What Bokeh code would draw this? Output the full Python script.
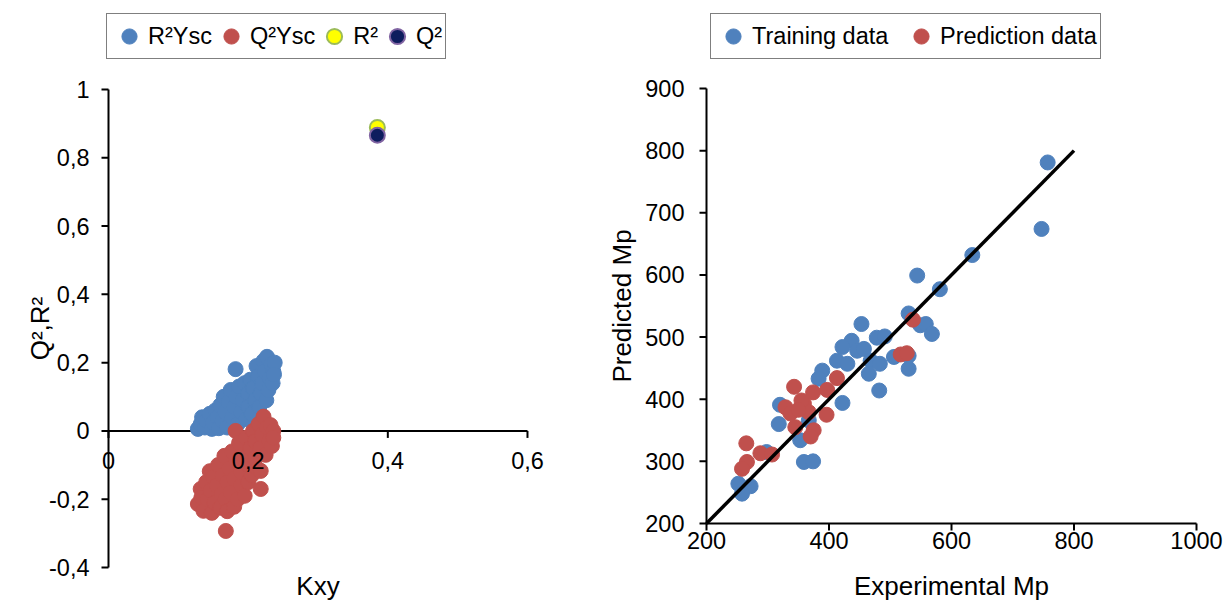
import math
from bokeh.plotting import figure
from bokeh.layouts import row
from bokeh.models import Range1d, Legend, LegendItem
from bokeh.core.properties import value
from bokeh.embed import file_html
from bokeh.resources import INLINE

FONT = "Liberation Sans"
TICK_FS = "23.5px"
TITLE_FS = "26px"
LEGEND_FS = "23.5px"

# ---------------- left chart data (Y-scrambling) ----------------
r2ysc_kxy = [0.128, 0.132, 0.134, 0.138, 0.140, 0.145, 0.148, 0.150, 0.153, 0.156,
             0.158, 0.160, 0.163, 0.165, 0.167, 0.170, 0.172, 0.175, 0.177, 0.180,
             0.182, 0.183, 0.185, 0.187, 0.190, 0.192, 0.195, 0.197, 0.200, 0.200,
             0.203, 0.205, 0.207, 0.210, 0.212, 0.214, 0.216, 0.218, 0.220, 0.222,
             0.224, 0.226, 0.227, 0.229, 0.231, 0.233, 0.235, 0.236, 0.238, 0.237]
r2ysc_val = [0.006, 0.020, 0.040, 0.010, 0.030, 0.050, 0.006, 0.025, 0.060, 0.040,
             0.008, 0.075, 0.030, 0.100, 0.055, 0.010, 0.085, 0.120, 0.040, 0.070,
             0.181, 0.100, 0.020, 0.130, 0.055, 0.090, 0.140, 0.035, 0.110, 0.070,
             0.150, 0.050, 0.125, 0.090, 0.190, 0.160, 0.070, 0.110, 0.140, 0.205,
             0.175, 0.090, 0.217, 0.120, 0.155, 0.195, 0.140, 0.175, 0.200, 0.165]

q2ysc_kxy = [0.128, 0.132, 0.133, 0.136, 0.140, 0.142, 0.145, 0.146, 0.148, 0.150,
             0.152, 0.155, 0.157, 0.160, 0.162, 0.163, 0.166, 0.167, 0.168, 0.170, 0.170,
             0.173, 0.175, 0.177, 0.180, 0.180, 0.182, 0.183, 0.185, 0.187, 0.190, 0.190,
             0.193, 0.195, 0.197, 0.200, 0.200, 0.203, 0.205, 0.207, 0.210, 0.210,
             0.213, 0.215, 0.217, 0.218, 0.218, 0.220, 0.222, 0.225, 0.227, 0.230,
             0.232, 0.234, 0.236, 0.236]
q2ysc_val = [-0.214, -0.170, -0.195, -0.234, -0.150, -0.200, -0.118, -0.175, -0.240, -0.135,
             -0.210, -0.160, -0.100, -0.225, -0.185, -0.130, -0.073, -0.200, -0.293, -0.150, -0.235,
             -0.110, -0.180, -0.060, -0.222, -0.140, 0.000, -0.090, -0.200, -0.035, -0.160, -0.120,
             -0.070, -0.190, -0.020, -0.100, -0.150, -0.050, -0.130, 0.000, -0.080, -0.030,
             -0.110, 0.020, -0.050, -0.170, -0.117, -0.010, 0.042, -0.070, 0.010, -0.030,
             0.017, -0.044, 0.000, -0.020]

r2_kxy = [0.385]
r2_val = [0.889]
q2_kxy = [0.385]
q2_val = [0.866]

left_y_ticks = [-0.4, -0.2, 0.0, 0.2, 0.4, 0.6, 0.8, 1.0]
left_y_labels = ["-0,4", "-0,2", "0", "0,2", "0,4", "0,6", "0,8", "1"]
left_x_ticks = [0.0, 0.2, 0.4, 0.6]
left_x_labels = ["0", "0,2", "0,4", "0,6"]
left_x_title = "Kxy"
left_y_title = "Q²,R²"

# ---------------- right chart data (Experimental vs predicted Mp) ----------------
train_exp = [757, 747, 634, 581, 544, 530, 549, 558, 568, 453, 478, 491, 437, 422, 413,
             430, 446, 457, 468, 465, 483, 506, 530, 530, 482, 389, 383, 422, 320, 318,
             353, 359, 374, 298, 252, 272, 258, 367]
train_pred = [781, 674, 632, 577, 599, 538, 519, 521, 505, 521, 499, 501, 494, 484, 462,
              457, 478, 481, 462, 441, 457, 468, 470, 449, 414, 446, 433, 394, 391, 360,
              334, 299, 300, 315, 264, 260, 248, 366]

pred_exp = [537, 517, 527, 413, 397, 343, 374, 329, 359, 337, 367, 396, 345, 375, 370,
            265, 288, 307, 266, 258, 355, 350]
pred_pred = [528, 472, 474, 434, 415, 420, 411, 387, 393, 377, 379, 375, 355, 350, 340,
             329, 313, 311, 299, 288, 398, 383]

line_x = [200, 800]
line_y = [200, 800]

right_x_ticks = [200, 400, 600, 800, 1000]
right_x_labels = ["200", "400", "600", "800", "1000"]
right_y_ticks = [200, 300, 400, 500, 600, 700, 800, 900]
right_y_labels = ["200", "300", "400", "500", "600", "700", "800", "900"]
right_x_title = "Experimental Mp"
right_y_title = "Predicted Mp"

BLUE = "#4F81BD"
RED = "#C0504D"


def draw_axes(p, xt, yt, yl, x_cross, y_cross, x_title, y_title,
              ylab_off, xtitle_off, ytitle_off, x_title_y):
    """Axis lines, ticks, y labels and titles drawn from the tick lists (Excel-like axes)."""
    n_x, n_y = len(xt), len(yt)
    p.segment(x0=[xt[0]], y0=[y_cross], x1=[xt[-1]], y1=[y_cross], line_color="black", line_width=2)
    p.segment(x0=[x_cross], y0=[yt[0]], x1=[x_cross], y1=[yt[-1]], line_color="black", line_width=2)
    p.ray(x=xt, y=[y_cross] * n_x, length=7, length_units="screen", angle=-math.pi / 2,
          line_color="black", line_width=2)
    p.ray(x=[x_cross] * n_y, y=yt, length=7, length_units="screen", angle=math.pi,
          line_color="black", line_width=2)
    p.text(x=[x_cross] * n_y, y=yt, text=yl, x_offset=ylab_off, text_align="right",
           text_baseline="middle", text_font=value(FONT), text_font_size=value(TICK_FS),
           text_color="black")
    p.text(x=[(xt[0] + xt[-1]) / 2], y=[x_title_y], text=[x_title], y_offset=xtitle_off,
           text_align="center", text_baseline="middle", text_font=value(FONT),
           text_font_size=value(TITLE_FS), text_color="black")
    p.text(x=[x_cross], y=[(yt[0] + yt[-1]) / 2], text=[y_title], x_offset=ytitle_off,
           angle=math.pi / 2, text_align="center", text_baseline="middle", text_font=value(FONT),
           text_font_size=value(TITLE_FS), text_color="black")


def x_tick_labels(p, xt, xl, y_cross, off):
    p.text(x=xt, y=[y_cross] * len(xt), text=xl, y_offset=off, text_align="center",
           text_baseline="top", text_font=value(FONT), text_font_size=value(TICK_FS),
           text_color="black")


# ---------------- left figure ----------------
# whole figure is the plotting frame: 0 -> 108 px, 0.6 -> 527 px ; 1 -> 89 px, -0.4 -> 567 px
p1 = figure(width=600, height=601, x_range=Range1d(-0.15466, 0.70457),
            y_range=Range1d(-0.49959, 1.26069),
            x_axis_location=None, y_axis_location=None,
            output_backend="svg", toolbar_location=None,
            min_border_left=0, min_border_right=0, min_border_top=0, min_border_bottom=0)
p1.outline_line_color = None
p1.grid.grid_line_color = None

draw_axes(p1, left_x_ticks, left_y_ticks, left_y_labels, 0, 0,
          left_x_title, left_y_title, -19, 19, -68, left_y_ticks[0])

rb = p1.scatter(r2ysc_kxy, r2ysc_val, size=15, fill_color=BLUE, line_color=BLUE)
rr = p1.scatter(q2ysc_kxy, q2ysc_val, size=15, fill_color=RED, line_color=RED)
ry = p1.scatter(r2_kxy, r2_val, size=15, fill_color="#FFFF00", line_color="#9BBB59", line_width=2)
rn = p1.scatter(q2_kxy, q2_val, size=15, fill_color="#0E1D5E", line_color="#8064A2", line_width=2)

# x tick labels sit on top of the points, as in the original
x_tick_labels(p1, left_x_ticks, left_x_labels, 0, 21)

leg1 = Legend(items=[LegendItem(label="R²Ysc", renderers=[rb]),
                     LegendItem(label="Q²Ysc", renderers=[rr]),
                     LegendItem(label="R²", renderers=[ry]),
                     LegendItem(label="Q²", renderers=[rn])],
              orientation="horizontal", location=(106, 542), margin=0, padding=3,
              glyph_width=38, glyph_height=38, label_standoff=0, spacing=0, label_width=0,
              label_text_font=FONT, label_text_font_size=LEGEND_FS, label_text_color="black",
              border_line_color="black", border_line_width=1.5, background_fill_color="white")
p1.add_layout(leg1)

# ---------------- right figure ----------------
# 200 -> 706 px, 1000 -> 1196 px (page) ; 900 -> 88 px, 200 -> 523 px
p2 = figure(width=627, height=601, x_range=Range1d(26.94, 1050.61), y_range=Range1d(74.48, 1041.61),
            x_axis_location=None, y_axis_location=None,
            output_backend="svg", toolbar_location=None,
            min_border_left=0, min_border_right=0, min_border_top=0, min_border_bottom=0)
p2.outline_line_color = None
p2.grid.grid_line_color = None

draw_axes(p2, right_x_ticks, right_y_ticks, right_y_labels,
          right_x_ticks[0], right_y_ticks[0], right_x_title, right_y_title,
          -22, 63, -84, right_y_ticks[0])
x_tick_labels(p2, right_x_ticks, right_x_labels, right_y_ticks[0], 9)

tb = p2.scatter(train_exp, train_pred, size=15, fill_color=BLUE, line_color=BLUE)
tr = p2.scatter(pred_exp, pred_pred, size=15, fill_color=RED, line_color=RED)
p2.line(line_x, line_y, line_color="black", line_width=3.5)

leg2 = Legend(items=[LegendItem(label="Training data", renderers=[tb]),
                     LegendItem(label="Prediction data", renderers=[tr])],
              orientation="horizontal", location=(110, 542), margin=0, padding=3,
              glyph_width=38, glyph_height=38, label_standoff=0, spacing=0, label_width=150,
              label_text_font=FONT, label_text_font_size=LEGEND_FS, label_text_color="black",
              border_line_color="black", border_line_width=1.5, background_fill_color="white")
p2.add_layout(leg2)

layout = row(p1, p2)
open("out.html", "w").write(file_html(layout, INLINE))
